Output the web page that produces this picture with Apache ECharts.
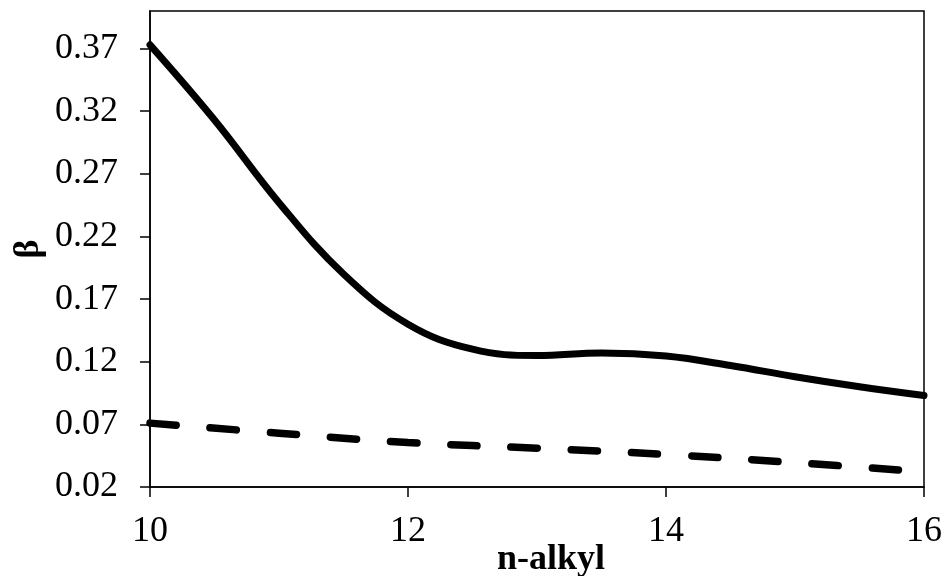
<!DOCTYPE html>
<html>
<head>
<meta charset="utf-8">
<script src="https://cdn.jsdelivr.net/npm/echarts@6/dist/echarts.min.js"></script>
<style>
  html, body { margin: 0; padding: 0; background: #fff; }
  #chart { width: 946px; height: 576px; }
</style>
</head>
<body>
<div id="chart"></div>
<script>
// chain length of the n-alkyl group
const alkylSolid = [10, 10.5, 11, 11.5, 12, 12.5, 13, 13.5, 14, 14.5, 15, 15.5, 16];
const betaSolid = [0.373, 0.313, 0.247, 0.190, 0.150, 0.130, 0.125, 0.127, 0.1245, 0.117, 0.108, 0.100, 0.093];

const alkylDashed = [10, 11, 12, 13, 14, 15, 16];
const betaDashed = [0.071, 0.063, 0.0555, 0.051, 0.046, 0.0395, 0.032];

const yTicks = [0.02, 0.07, 0.12, 0.17, 0.22, 0.27, 0.32, 0.37];
const xTicks = [10, 12, 14, 16];

const serif = '"Liberation Serif", "Times New Roman", serif';

function pairs(xs, ys) {
  return xs.map((x, i) => [x, ys[i]]);
}

const chart = echarts.init(document.getElementById('chart'), null, { renderer: 'canvas' });

chart.setOption({
  animation: false,
  backgroundColor: '#fff',
  grid: {
    left: 150, right: 22, top: 11, bottom: 89,
    outerBoundsMode: 'none',
    containLabel: false,
    show: true, borderColor: '#000', borderWidth: 1.5, backgroundColor: 'transparent'
  },
  xAxis: {
    type: 'value',
    min: 10, max: 16, interval: 2,
    name: 'n-alkyl',
    nameLocation: 'middle',
    nameGap: 55,
    nameMoveOverlap: false,
    nameTextStyle: { fontFamily: serif, fontSize: 36, fontWeight: 'bold', color: '#000', padding: [0, 0, 0, 28] },
    axisLine: { show: true, lineStyle: { color: '#000', width: 1.5 } },
    axisTick: { show: true, inside: false, length: 10, lineStyle: { color: '#000', width: 1.5 }, customValues: xTicks },
    axisLabel: { margin: 27, fontFamily: serif, fontSize: 36, color: '#000', customValues: xTicks },
    splitLine: { show: false }
  },
  yAxis: {
    type: 'value',
    min: 0.02, max: 0.40, interval: 0.05,
    name: 'β',
    nameLocation: 'middle',
    nameGap: 103,
    nameRotate: 90,
    nameMoveOverlap: false,
    nameTextStyle: { fontFamily: serif, fontSize: 36, fontWeight: 'bold', color: '#000' },
    axisLine: { show: true, lineStyle: { color: '#000', width: 1.5 } },
    axisTick: { show: true, inside: false, length: 10, lineStyle: { color: '#000', width: 1.5 }, customValues: yTicks },
    axisLabel: {
      margin: 32, fontFamily: serif, fontSize: 36, color: '#000',
      customValues: yTicks,
      formatter: v => v.toFixed(2)
    },
    splitLine: { show: false }
  },
  series: [
    {
      type: 'line',
      data: pairs(alkylSolid, betaSolid),
      smooth: 0.4,
      symbol: 'none',
      lineStyle: { color: '#000', width: 7, cap: 'round' }
    },
    {
      type: 'line',
      data: pairs(alkylDashed, betaDashed),
      smooth: 0.4,
      symbol: 'none',
      lineStyle: { color: '#000', width: 7.5, type: [26.3, 34], cap: 'round' }
    }
  ]
});
</script>
</body>
</html>
